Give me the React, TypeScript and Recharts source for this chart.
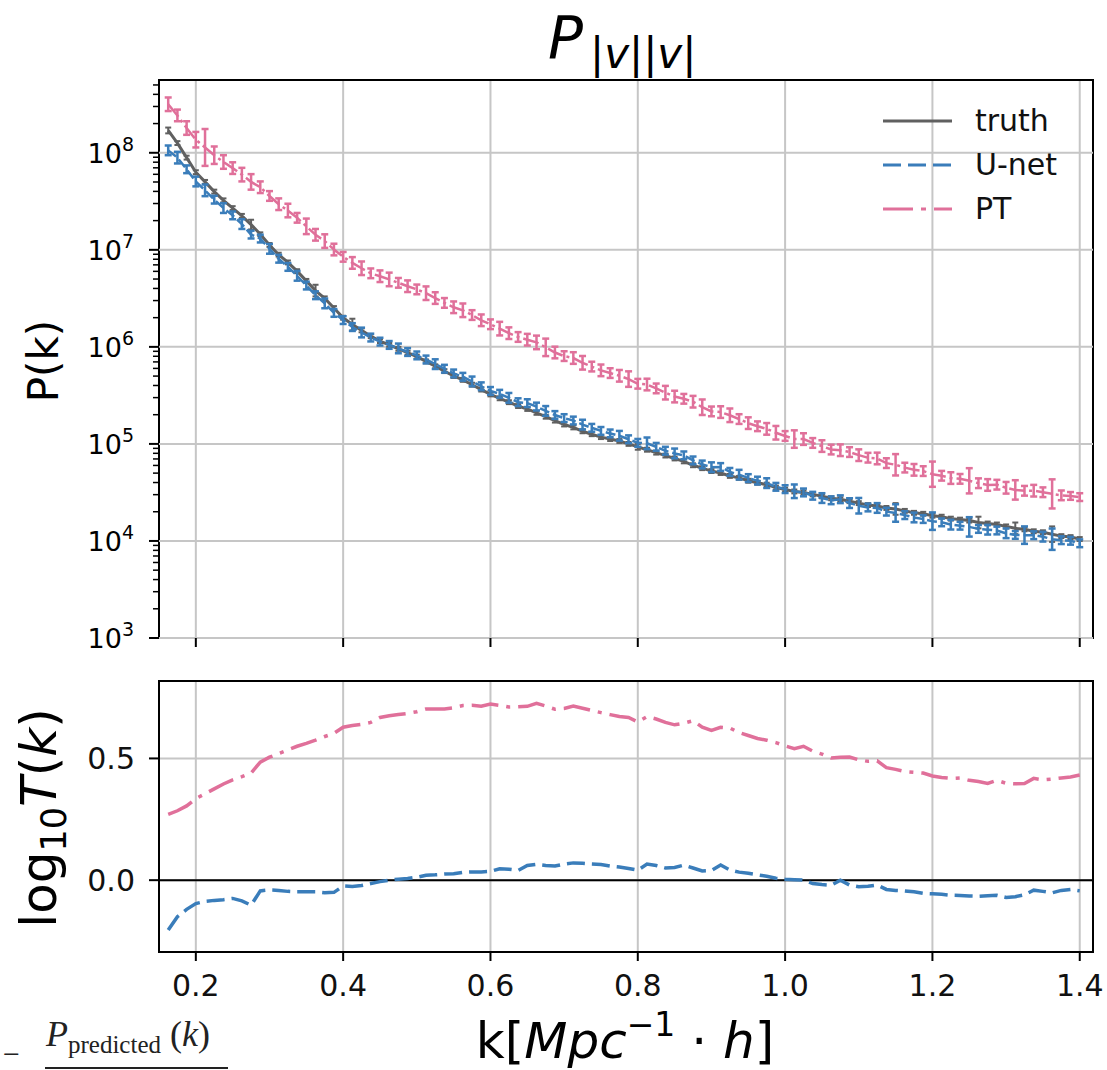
import React from "react";
import {
  LineChart,
  Line,
  XAxis,
  YAxis,
  CartesianGrid,
  ErrorBar,
  ReferenceLine,
  ReferenceArea,
  Legend,
} from "recharts";

/* ===== data ===== */
const K = [
  0.1625, 0.175, 0.1875, 0.2, 0.2125, 0.225, 0.2375, 0.25, 0.2625, 0.275,
  0.2875, 0.3, 0.3125, 0.325, 0.3375, 0.35, 0.3625, 0.375, 0.3875, 0.4,
  0.4125, 0.425, 0.4375, 0.45, 0.4625, 0.475, 0.4875, 0.5, 0.5125, 0.525,
  0.5375, 0.55, 0.5625, 0.575, 0.5875, 0.6, 0.6125, 0.625, 0.6375, 0.65,
  0.6625, 0.675, 0.6875, 0.7, 0.7125, 0.725, 0.7375, 0.75, 0.7625, 0.775,
  0.7875, 0.8, 0.8125, 0.825, 0.8375, 0.85, 0.8625, 0.875, 0.8875, 0.9,
  0.9125, 0.925, 0.9375, 0.95, 0.9625, 0.975, 0.9875, 1.0, 1.0125, 1.025,
  1.0375, 1.05, 1.0625, 1.075, 1.0875, 1.1, 1.1125, 1.125, 1.1375, 1.15,
  1.1625, 1.175, 1.1875, 1.2, 1.2125, 1.225, 1.2375, 1.25, 1.2625, 1.275,
  1.2875, 1.3, 1.3125, 1.325, 1.3375, 1.35, 1.3625, 1.375, 1.3875, 1.4,
];

// log10 P(k) of the truth field
const TRUTH_LOG = [
  8.23, 8.1, 7.95, 7.8, 7.7, 7.6, 7.51, 7.43, 7.35, 7.26,
  7.16, 7.05, 6.95, 6.87, 6.78, 6.68, 6.58, 6.5, 6.4, 6.3,
  6.23, 6.17, 6.11, 6.06, 6.02, 5.98, 5.94, 5.9, 5.85, 5.8,
  5.75, 5.7, 5.66, 5.61, 5.56, 5.51, 5.47, 5.43, 5.39, 5.36,
  5.32, 5.28, 5.24, 5.2, 5.17, 5.13, 5.1, 5.07, 5.05, 5.03,
  5.0, 4.97, 4.94, 4.91, 4.88, 4.85, 4.82, 4.78, 4.75, 4.72,
  4.7, 4.67, 4.65, 4.62, 4.6, 4.58, 4.55, 4.53, 4.51, 4.5,
  4.48, 4.46, 4.44, 4.43, 4.41, 4.39, 4.37, 4.36, 4.34, 4.33,
  4.31, 4.29, 4.28, 4.26, 4.25, 4.23, 4.22, 4.21, 4.19, 4.18,
  4.17, 4.15, 4.13, 4.12, 4.1, 4.09, 4.07, 4.05, 4.04, 4.02,
];

// log10 T(k) = log10(P_predicted / P_truth)
const T_UNET = [
  -0.205, -0.15, -0.12, -0.096, -0.087, -0.083, -0.08, -0.075, -0.085, -0.103,
  -0.044, -0.04, -0.042, -0.046, -0.048, -0.048, -0.048, -0.052, -0.05, -0.024,
  -0.026, -0.022, -0.014, -0.006, 0.0, 0.004, 0.007, 0.012, 0.02, 0.022,
  0.025, 0.026, 0.032, 0.034, 0.034, 0.036, 0.047, 0.045, 0.04, 0.06,
  0.065, 0.06, 0.058, 0.066, 0.071, 0.069, 0.066, 0.064, 0.058, 0.054,
  0.048, 0.041, 0.066, 0.06, 0.05, 0.052, 0.062, 0.05, 0.038, 0.04,
  0.062, 0.042, 0.033, 0.028, 0.022, 0.016, 0.008, 0.004, 0.002, 0.0,
  -0.014, -0.018, -0.021, 0.0, -0.02, -0.027, -0.025, -0.02, -0.038, -0.042,
  -0.044, -0.048, -0.054, -0.056, -0.058, -0.062, -0.063, -0.065, -0.066, -0.064,
  -0.062, -0.071, -0.068, -0.06, -0.041, -0.046, -0.052, -0.042, -0.038, -0.044,
];

const T_PT = [
  0.27, 0.285, 0.305, 0.335, 0.355, 0.375, 0.395, 0.412, 0.425, 0.44,
  0.485, 0.505, 0.52, 0.535, 0.55, 0.562, 0.575, 0.59, 0.603, 0.628,
  0.635, 0.64, 0.648, 0.668, 0.675, 0.68, 0.685, 0.692, 0.703, 0.703,
  0.703, 0.708, 0.717, 0.718, 0.714, 0.723, 0.718, 0.711, 0.712, 0.714,
  0.726, 0.715, 0.702, 0.705, 0.715, 0.706, 0.697, 0.688, 0.68, 0.672,
  0.668, 0.65, 0.672, 0.662, 0.648, 0.638, 0.645, 0.655, 0.628, 0.615,
  0.628, 0.625, 0.606, 0.594, 0.582, 0.575, 0.565, 0.552, 0.54, 0.55,
  0.53, 0.518, 0.502, 0.505, 0.506, 0.494, 0.488, 0.49, 0.462, 0.455,
  0.446, 0.443, 0.44, 0.428, 0.422, 0.418, 0.42, 0.41, 0.405, 0.397,
  0.41, 0.398, 0.396, 0.397, 0.418, 0.412, 0.415, 0.42, 0.424, 0.432,
];

// error bar half-heights, in dex
const ERR_TRUTH = [
  0.03, 0.02, 0.02, 0.02, 0.02, 0.02, 0.02, 0.02, 0.02, 0.05,
  0.02, 0.02, 0.02, 0.02, 0.02, 0.02, 0.06, 0.02, 0.02, 0.02,
  0.06, 0.02, 0.02, 0.02, 0.02, 0.02, 0.02, 0.02, 0.02, 0.02,
  0.02, 0.02, 0.02, 0.02, 0.02, 0.02, 0.02, 0.02, 0.02, 0.02,
  0.02, 0.02, 0.02, 0.02, 0.02, 0.02, 0.02, 0.02, 0.02, 0.02,
  0.02, 0.03, 0.02, 0.02, 0.02, 0.02, 0.02, 0.02, 0.02, 0.02,
  0.02, 0.02, 0.02, 0.02, 0.02, 0.02, 0.02, 0.02, 0.02, 0.02,
  0.02, 0.02, 0.02, 0.02, 0.02, 0.02, 0.02, 0.02, 0.02, 0.06,
  0.02, 0.02, 0.02, 0.02, 0.02, 0.02, 0.02, 0.02, 0.06, 0.02,
  0.02, 0.02, 0.06, 0.02, 0.02, 0.02, 0.08, 0.02, 0.02, 0.02,
];

const ERR_UNET = [
  0.05, 0.06, 0.04, 0.05, 0.06, 0.04, 0.05, 0.04, 0.05, 0.04,
  0.04, 0.05, 0.04, 0.04, 0.05, 0.04, 0.04, 0.05, 0.04, 0.04,
  0.04, 0.05, 0.04, 0.04, 0.04, 0.05, 0.04, 0.04, 0.04, 0.05,
  0.04, 0.04, 0.04, 0.05, 0.04, 0.04, 0.04, 0.05, 0.04, 0.04,
  0.04, 0.05, 0.04, 0.04, 0.04, 0.05, 0.04, 0.04, 0.04, 0.05,
  0.04, 0.04, 0.06, 0.04, 0.04, 0.05, 0.04, 0.04, 0.04, 0.05,
  0.04, 0.04, 0.05, 0.04, 0.04, 0.05, 0.04, 0.04, 0.07, 0.04,
  0.04, 0.05, 0.04, 0.04, 0.05, 0.08, 0.04, 0.05, 0.04, 0.09,
  0.04, 0.05, 0.04, 0.09, 0.04, 0.05, 0.04, 0.1, 0.04, 0.05,
  0.04, 0.05, 0.04, 0.09, 0.04, 0.05, 0.11, 0.04, 0.04, 0.04,
];

const ERR_PT = [
  0.07, 0.06, 0.07, 0.08, 0.19, 0.09, 0.07, 0.06, 0.07, 0.08,
  0.06, 0.05, 0.06, 0.07, 0.05, 0.08, 0.06, 0.07, 0.06, 0.05,
  0.06, 0.07, 0.05, 0.06, 0.07, 0.05, 0.06, 0.05, 0.07, 0.06,
  0.05, 0.06, 0.07, 0.05, 0.06, 0.05, 0.07, 0.06, 0.05, 0.06,
  0.07, 0.09, 0.06, 0.05, 0.06, 0.07, 0.05, 0.06, 0.05, 0.06,
  0.08, 0.05, 0.06, 0.05, 0.07, 0.06, 0.05, 0.06, 0.08, 0.05,
  0.06, 0.07, 0.05, 0.06, 0.05, 0.06, 0.07, 0.05, 0.09, 0.06,
  0.05, 0.06, 0.05, 0.06, 0.05, 0.06, 0.05, 0.06, 0.05, 0.11,
  0.05, 0.06, 0.05, 0.13, 0.05, 0.06, 0.05, 0.13, 0.05, 0.06,
  0.05, 0.06, 0.1, 0.05, 0.06, 0.05, 0.15, 0.05, 0.04, 0.04,
];

const X_TICKS = [0.2, 0.4, 0.6, 0.8, 1.0, 1.2, 1.4];
const P_DECADES = [3, 4, 5, 6, 7, 8];
const T_TICKS = [0, 0.5];

/* ===== styling ===== */
const COLORS = { truth: "#606060", unet: "#3a7dba", pt: "#e0709a" };
const GRID = "#c6c6c6";
const FONT = "DejaVu Sans, Verdana, sans-serif";
const SERIF = "Liberation Serif, serif";

const W = 1107;
const PLOT_LEFT = 159;
const X_DOMAIN: [number, number] = [0.15, 1.418];
const P_MAX = 10 ** 8.75;
const P_DOMAIN: [number, number] = [1e3, P_MAX];
const T_DOMAIN: [number, number] = [-0.295, 0.818];

const P_TICKS = P_DECADES.flatMap((d) =>
  [1, 2, 3, 4, 5, 6, 7, 8, 9].map((m) => m * 10 ** d)
).filter((v) => v <= P_MAX);

const bounds = (v: number, dex: number) => [v - v * 10 ** -dex, v * 10 ** dex - v];

const rows = K.map((k, i) => {
  const truth = 10 ** TRUTH_LOG[i];
  const unet = 10 ** (TRUTH_LOG[i] + T_UNET[i]);
  const pt = 10 ** (TRUTH_LOG[i] + T_PT[i]);
  return {
    k,
    truth,
    unet,
    pt,
    truthErr: bounds(truth, ERR_TRUTH[i]),
    unetErr: bounds(unet, ERR_UNET[i]),
    ptErr: bounds(pt, ERR_PT[i]),
    tUnet: T_UNET[i],
    tPt: T_PT[i],
  };
});

const LEGEND = [
  { name: "truth", color: COLORS.truth, dash: undefined },
  { name: "U-net", color: COLORS.unet, dash: "18 7" },
  { name: "PT", color: COLORS.pt, dash: "30 8 5 8" },
];

/* ===== log tick: 10^n on decades, short marks for minors ===== */
const LogTick = ({ y, payload }: any) => {
  const e = Math.log10(payload.value);
  const major = Math.abs(e - Math.round(e)) < 1e-6;
  return (
    <g>
      <line
        x1={PLOT_LEFT - (major ? 10 : 6)}
        x2={PLOT_LEFT}
        y1={y}
        y2={y}
        stroke="#000"
        strokeWidth={major ? 2 : 1.5}
      />
      {major && (
        <text x={134} y={y + 10} textAnchor="end" fontSize={27} fontFamily={FONT} fill="#000">
          10
          <tspan dy={-12} fontSize={19}>
            {Math.round(e)}
          </tspan>
        </text>
      )}
    </g>
  );
};

const renderLegend = () => (
  <svg width={220} height={140}>
    {LEGEND.map((item, i) => (
      <g key={item.name} transform={`translate(0, ${i * 44})`}>
        <line
          x1={3}
          x2={72}
          y1={21}
          y2={21}
          stroke={item.color}
          strokeWidth={3}
          strokeDasharray={item.dash}
        />
        <text x={95} y={31} fontSize={30} fontFamily={FONT} fill="#111">
          {item.name}
        </text>
      </g>
    ))}
  </svg>
);

export default function App() {
  return (
    <div style={{ position: "absolute", left: 0, top: 0, width: W, height: 1070, background: "#fff" }}>
      {/* ===== P(k) panel ===== */}
      <div style={{ position: "absolute", left: 0, top: 0 }}>
        <LineChart width={W} height={660} data={rows} margin={{ top: 80, right: 14, left: 0, bottom: 10 }}>
          <CartesianGrid horizontal={false} stroke={GRID} strokeWidth={2} />
          {P_DECADES.map((d) => (
            <ReferenceLine key={d} y={10 ** d} stroke={GRID} strokeWidth={2} />
          ))}
          <XAxis
            type="number"
            dataKey="k"
            domain={X_DOMAIN}
            ticks={X_TICKS}
            interval={0}
            allowDataOverflow
            axisLine={false}
            tickLine={{ stroke: "#000", strokeWidth: 2 }}
            tickSize={9}
            tick={() => <g />}
            height={12}
          />
          <YAxis
            type="number"
            scale="log"
            domain={P_DOMAIN}
            ticks={P_TICKS}
            interval={0}
            allowDataOverflow
            axisLine={false}
            tickLine={false}
            tick={<LogTick />}
            width={PLOT_LEFT}
          />
          <ReferenceArea
            x1={X_DOMAIN[0]}
            x2={X_DOMAIN[1]}
            y1={P_DOMAIN[0]}
            y2={P_DOMAIN[1]}
            fill="none"
            stroke="#000"
            strokeWidth={2}
          />
          <Line
            dataKey="truth"
            stroke={COLORS.truth}
            strokeWidth={3}
            dot={false}
            isAnimationActive={false}
          >
            <ErrorBar dataKey="truthErr" width={3} stroke={COLORS.truth} strokeWidth={2} direction="y" />
          </Line>
          <Line
            dataKey="unet"
            stroke={COLORS.unet}
            strokeWidth={2.5}
            strokeDasharray="10 4"
            dot={false}
            isAnimationActive={false}
          >
            <ErrorBar dataKey="unetErr" width={3.5} stroke={COLORS.unet} strokeWidth={2.5} direction="y" />
          </Line>
          <Line
            dataKey="pt"
            stroke={COLORS.pt}
            strokeWidth={2.5}
            strokeDasharray="16 4 3 4"
            dot={false}
            isAnimationActive={false}
          >
            <ErrorBar dataKey="ptErr" width={3.5} stroke={COLORS.pt} strokeWidth={2.5} direction="y" />
          </Line>
          <Legend
            layout="vertical"
            align="center"
            verticalAlign="middle"
            content={renderLegend}
            wrapperStyle={{ position: "absolute", left: 880, top: 100, width: 220, height: 140 }}
          />
        </LineChart>
      </div>

      {/* ===== log10 T(k) panel ===== */}
      <div style={{ position: "absolute", left: 0, top: 660 }}>
        <LineChart width={W} height={410} data={rows} margin={{ top: 21, right: 14, left: 0, bottom: 58 }}>
          <CartesianGrid stroke={GRID} strokeWidth={2} />
          <XAxis
            type="number"
            dataKey="k"
            domain={X_DOMAIN}
            ticks={X_TICKS}
            interval={0}
            allowDataOverflow
            axisLine={false}
            tickLine={{ stroke: "#000", strokeWidth: 2 }}
            tickSize={9}
            tickMargin={14}
            tickFormatter={(v: number) => v.toFixed(1)}
            tick={{ fontSize: 30, fill: "#111", fontFamily: FONT }}
            height={60}
          />
          <YAxis
            type="number"
            domain={T_DOMAIN}
            ticks={T_TICKS}
            interval={0}
            allowDataOverflow
            axisLine={false}
            tickLine={{ stroke: "#000", strokeWidth: 2 }}
            tickSize={10}
            tickMargin={14}
            tickFormatter={(v: number) => v.toFixed(1)}
            tick={{ fontSize: 30, fill: "#111", fontFamily: FONT }}
            width={PLOT_LEFT}
          />
          <ReferenceArea
            x1={X_DOMAIN[0]}
            x2={X_DOMAIN[1]}
            y1={T_DOMAIN[0]}
            y2={T_DOMAIN[1]}
            fill="none"
            stroke="#000"
            strokeWidth={2}
          />
          <ReferenceLine y={0} stroke="#000" strokeWidth={2} />
          <Line
            dataKey="tPt"
            stroke={COLORS.pt}
            strokeWidth={3.5}
            strokeDasharray="27 8 4 8"
            dot={false}
            isAnimationActive={false}
          />
          <Line
            dataKey="tUnet"
            stroke={COLORS.unet}
            strokeWidth={3.5}
            strokeDasharray="18 7"
            dot={false}
            isAnimationActive={false}
          />
        </LineChart>
      </div>

      {/* ===== titles and axis labels ===== */}
      <svg
        width={W}
        height={1070}
        style={{ position: "absolute", left: 0, top: 0, pointerEvents: "none" }}
      >
        <text x={548} y={58} fontSize={58} fontStyle="italic" fontFamily={FONT} fill="#000">
          P
        </text>
        <text x={590} y={68} fontSize={42} fontFamily={FONT} fill="#000">
          |<tspan fontStyle="italic">v</tspan>||<tspan fontStyle="italic">v</tspan>|
        </text>

        <text
          x={58}
          y={361}
          transform="rotate(-90, 58, 361)"
          textAnchor="middle"
          fontSize={42}
          fontFamily={FONT}
          fill="#000"
        >
          P(k)
        </text>

        <text
          x={56}
          y={818}
          transform="rotate(-90, 56, 818)"
          textAnchor="middle"
          fontSize={50}
          fontFamily={FONT}
          fill="#000"
        >
          log
          <tspan fontSize={35} dy={10}>
            10
          </tspan>
          <tspan fontStyle="italic" dy={-10}>
            T
          </tspan>
          (<tspan fontStyle="italic">k</tspan>)
        </text>

        <text x={625} y={1058} textAnchor="middle" fontSize={50} fontFamily={FONT} fill="#000">
          k[<tspan fontStyle="italic">Mpc</tspan>
          <tspan fontSize={33} dy={-22}>
            −1
          </tspan>
          <tspan dy={22}> · </tspan>
          <tspan fontStyle="italic">h</tspan>]
        </text>

        {/* clipped fragment of a caption below the figure */}
        <text x={3} y={1064} fontSize={30} fontFamily={SERIF} fill="#222">
          −
        </text>
        <text x={46} y={1046} fontSize={36} fontFamily={SERIF} fill="#222">
          <tspan fontStyle="italic">P</tspan>
          <tspan fontSize={25} dy={7}>
            predicted
          </tspan>
          <tspan dy={-7}> (</tspan>
          <tspan fontStyle="italic">k</tspan>)
        </text>
        <line x1={45} x2={228} y1={1068} y2={1068} stroke="#222" strokeWidth={2} />
      </svg>
    </div>
  );
}
